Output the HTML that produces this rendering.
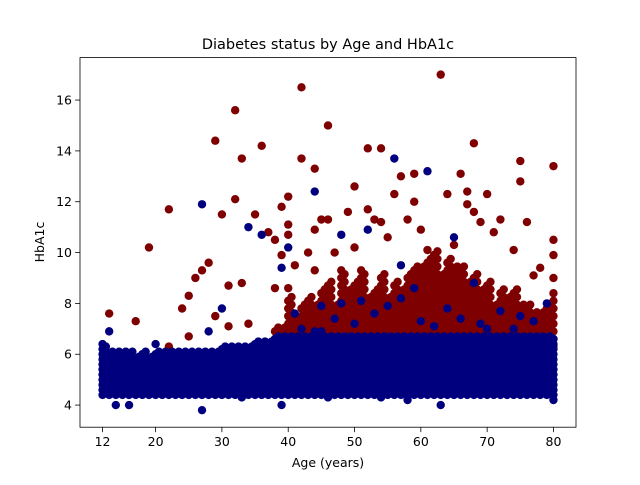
<!DOCTYPE html>
<html><head><meta charset="utf-8"><style>
html,body{margin:0;padding:0;background:#fff;}
svg text{font-family:"DejaVu Sans","Liberation Sans",sans-serif;fill:#000;}
</style></head><body>
<svg id="chart" width="640" height="480" xmlns="http://www.w3.org/2000/svg">
<rect x="0" y="0" width="640" height="480" fill="#fff"/>
<g id="marks"></g>
<g id="axes"></g>
<text x="328" y="49" text-anchor="middle" font-size="14.5">Diabetes status by Age and HbA1c</text>
<text x="328" y="467" text-anchor="middle" font-size="12.5">Age (years)</text>
<text x="0" y="0" text-anchor="middle" font-size="12.5" transform="translate(44,242) rotate(-90)">HbA1c</text>
</svg>
<script>
const xTicks=[12,20,30,40,50,60,70,80];
const yTicks=[4,6,8,10,12,14,16];
const redAges=[13,17,19,22,22,24,25,25,26,27,28,29,29,30,31,31,32,32,33,33,34,35,36,37,38,38,39,39,40,40,40,40,41,42,42,43,44,44,44,45,46,46,47,48,49,50,50,51,52,52,53,54,54,55,56,57,58,59,59,60,61,62,63,64,65,66,67,67,68,68,69,70,71,72,74,75,75,76,77,78,80,80,80,80];
const redVals=[7.6,7.3,10.2,11.7,6.3,7.8,8.3,6.7,9.0,9.3,9.6,14.4,7.5,11.5,7.1,8.7,15.6,12.1,13.7,8.8,7.2,11.5,14.2,10.8,10.5,8.6,9.9,11.8,12.2,11.1,10.7,8.6,9.5,16.5,13.7,10.0,13.3,10.9,9.3,11.3,15.0,11.3,10.0,9.3,11.6,12.6,10.2,9.3,14.1,11.7,11.3,14.1,11.2,10.6,12.3,13.0,11.3,13.1,12.0,10.9,10.1,9.9,17.0,12.3,10.3,13.1,11.9,12.4,14.3,11.6,11.2,12.3,10.8,11.3,10.1,13.6,12.8,11.2,9.1,9.4,13.4,10.5,9.9,9.0];
const redCoreAges=[38,39,40,41,42,43,44,45,46,47,48,49,50,51,52,53,54,55,56,57,58,59,60,61,62,63,64,65,66,67,68,69,70,71,72,73,74,75,76,77,78,79,80];
const redCoreTop=[6.9,7.1,8.1,7.4,7.9,8.3,7.8,8.6,8.9,8.0,9.0,8.4,8.8,9.0,8.1,8.6,9.0,8.3,8.9,8.4,9.0,9.3,9.5,9.7,9.9,9.1,9.6,9.3,9.5,8.8,9.0,8.5,8.7,8.0,8.6,8.2,8.4,7.9,8.0,7.6,7.7,7.9,8.6];
const redCoreVals=[6.3,6.6,6.9,7.2,7.5,7.8,8.1,8.4,8.7,9.0,9.3,9.6,9.9];
const coreAges=[12,13,14,15,16,17,18,19,20,21,22,23,24,25,26,27,28,29,30,31,32,33,34,35,36,37,38,39,40,41,42,43,44,45,46,47,48,49,50,51,52,53,54,55,56,57,58,59,60,61,62,63,64,65,66,67,68,69,70,71,72,73,74,75,76,77,78,79,80];
const coreTop=[6.2,6.0,6.1,6.0,6.1,5.9,6.0,5.9,6.1,6.0,6.1,6.0,6.1,6.1,6.1,6.1,6.1,6.1,6.2,6.2,6.2,6.3,6.3,6.4,6.5,6.5,6.6,6.6,6.6,6.6,6.6,6.6,6.6,6.6,6.6,6.6,6.6,6.6,6.6,6.6,6.6,6.6,6.6,6.6,6.6,6.6,6.6,6.6,6.6,6.6,6.6,6.6,6.6,6.6,6.6,6.6,6.6,6.6,6.6,6.6,6.6,6.6,6.6,6.6,6.6,6.6,6.6,6.6,6.6];
const coreVals=[4.4,4.6,4.8,5.0,5.2,5.4,5.6,5.8,6.0,6.2,6.4,6.6];
const blueAges=[12,13,14,16,20,27,27,28,30,34,36,39,39,40,41,44,45,47,48,52,54,56,57,59,61,63,65,68,72,80,79,48,55,60,70,33,46,58,42,50,53,62,66,74,77,45,51,64,69,75,57,44];
const blueVals=[6.4,6.9,4.0,4.0,6.4,11.9,3.8,6.9,7.8,11.0,10.7,9.4,4.0,10.2,7.6,12.4,7.9,7.4,10.7,10.9,4.3,13.7,9.5,8.6,13.2,4.0,10.6,8.8,7.7,4.2,8.0,8.0,7.9,7.3,7.0,4.3,4.3,4.2,7.0,7.2,7.6,7.1,7.4,7.0,7.3,6.9,8.1,7.8,7.2,7.5,8.2,6.9];
const X0=80,X1=576,Y0=57.6,Y1=427.2,xmin=8.6,xmax=83.4,ymin=3.13,ymax=17.67;
function sx(v){return X0+(v-xmin)/(xmax-xmin)*(X1-X0);}
function sy(v){return Y1-(v-ymin)/(ymax-ymin)*(Y1-Y0);}
const NS="http://www.w3.org/2000/svg";
const marks=document.getElementById('marks');
function dot(a,v,col,name){
  const c=document.createElementNS(NS,'circle');
  c.setAttribute('cx',sx(a));c.setAttribute('cy',sy(v));c.setAttribute('r',4.2);c.setAttribute('fill',col);
  
  
  marks.appendChild(c);
}
const RED='#7f0000',BLUE='#00007f';
redCoreAges.forEach((a,i)=>{redCoreVals.forEach(v=>{if(v<=redCoreTop[i]){dot(a,v,RED,'point-diabetic');if(a<80)dot(a+0.5,v+0.15,RED,'point-diabetic');}});});
redAges.forEach((a,i)=>dot(a,redVals[i],RED,'point-diabetic'));
coreAges.forEach((a,i)=>{coreVals.forEach(v=>{if(v<=coreTop[i]){dot(a,v,BLUE,'point-non-diabetic');if(a<80)dot(a+0.5,v+0.1,BLUE,'point-non-diabetic');}});});
blueAges.forEach((a,i)=>dot(a,blueVals[i],BLUE,'point-non-diabetic'));
const axes=document.getElementById('axes');
axes.innerHTML='<rect x="'+X0+'" y="'+Y0+'" width="'+(X1-X0)+'" height="'+(Y1-Y0)+'" fill="none" stroke="#000" stroke-width="0.8"/>';
xTicks.forEach(t=>{
  const l=document.createElementNS(NS,'line');l.setAttribute('x1',sx(t));l.setAttribute('x2',sx(t));l.setAttribute('y1',Y1);l.setAttribute('y2',Y1+4.9);l.setAttribute('stroke','#000');l.setAttribute('stroke-width','0.8');
  
  
  axes.appendChild(l);
  const tx=document.createElementNS(NS,'text');tx.setAttribute('x',sx(t));tx.setAttribute('y',Y1+19);tx.setAttribute('text-anchor','middle');tx.setAttribute('font-size','12.5');tx.textContent=t;
  
  
  axes.appendChild(tx);
});
yTicks.forEach(t=>{
  const l=document.createElementNS(NS,'line');l.setAttribute('x1',X0-4.9);l.setAttribute('x2',X0);l.setAttribute('y1',sy(t));l.setAttribute('y2',sy(t));l.setAttribute('stroke','#000');l.setAttribute('stroke-width','0.8');
  
  
  axes.appendChild(l);
  const tx=document.createElementNS(NS,'text');tx.setAttribute('x',X0-8);tx.setAttribute('y',sy(t)+4.5);tx.setAttribute('text-anchor','end');tx.setAttribute('font-size','12.5');tx.textContent=t;
  
  
  axes.appendChild(tx);
});
</script>
</body></html>
